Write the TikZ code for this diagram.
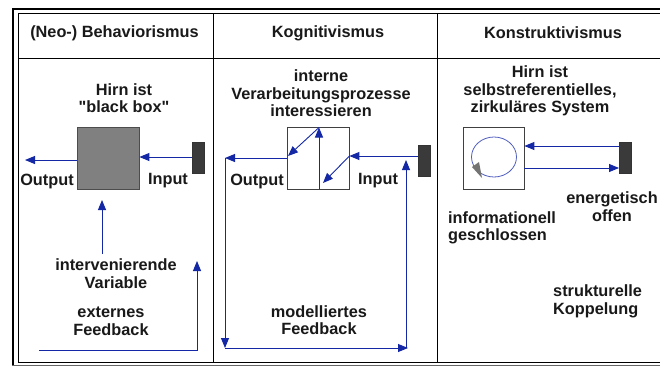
\documentclass[tikz,border=0pt]{standalone}
\usepackage{fontspec}
\setmainfont{Liberation Sans}
\usetikzlibrary{arrows.meta}
\definecolor{arrblue}{RGB}{20,40,165}
\definecolor{loopblue}{RGB}{80,95,190}
\definecolor{boxgray}{RGB}{128,128,128}
\definecolor{bardark}{RGB}{58,58,58}
\definecolor{txt}{RGB}{25,25,25}
\newcommand\straightq{\XeTeXglyph\XeTeXcharglyph"22\relax}
\begin{document}
\begin{tikzpicture}[x=1pt,y=-1pt,
  lbl/.style={font=\fontsize{16.3}{17.5}\selectfont\bfseries, align=center, inner sep=0pt, text=txt},
  lbll/.style={lbl, align=left, anchor=west},
  conn/.style={draw=arrblue, line width=0.9pt, -{Triangle[length=10pt,width=8pt]}},
  plainline/.style={draw=arrblue, line width=0.9pt},
  barbox/.style={fill=bardark, draw=black!80, line width=0.4pt, minimum width=12pt, minimum height=31pt, inner sep=0pt},
  frameline/.style={draw=black, line width=0.9pt},
  whitebox/.style={draw=black!75, line width=0.8pt, fill=white, minimum width=62pt, minimum height=62pt, inner sep=0pt}
]
\useasboundingbox (0,0) rectangle (660,367);
\fill[white] (0,0) rectangle (660,367);
% frame
\draw[line width=2.2pt] (660,9) -- (13,9) -- (13,366);
\draw[line width=1pt, black!60] (12,365.5) -- (660,365.5);
\draw[frameline] (660,13) -- (18,13) -- (18,362) -- (660,362);
\draw[frameline] (18,58) -- (660,58);
\draw[frameline] (213,13) -- (213,362);
\draw[frameline] (437,13) -- (437,362);

% headers
\node[lbl] (h1) at (114.5,33) {(Neo-) Behaviorismus};
\node[lbl] (h2) at (328,33) {Kognitivismus};
\node[lbl] (h3) at (553,33) {Konstruktivismus};

% ---------- column 1
\node[lbl] (t1) at (124,98) {Hirn ist\\\straightq black box\straightq};
\node[whitebox, fill=boxgray, draw=black!70] (bb) at (108,158) {};
\node[barbox] (bar1) at (198,157.5) {};
\coordinate (in1) at (192,157);
\coordinate (out1) at (25,160);
\draw[conn] (in1) -- (bb.east |- in1);
\draw[conn] (bb.west |- out1) -- (out1);
\node[lbl] (o1) at (47,181) {Output};
\node[lbl] (i1) at (168,181) {Input};
\coordinate (iv0) at (102,254);
\coordinate (iv1) at (102,200);
\draw[conn] (iv0) -- (iv1);
\node[lbl] (t2) at (116,273.5) {intervenierende\\Variable};
\node[lbl] (t3) at (111,321.5) {externes\\Feedback};
\coordinate (fb0) at (39,350);
\coordinate (fb1) at (197,350);
\coordinate (fb2) at (197,261);
\draw[conn] (fb0) -- (fb1) -- (fb2);

% ---------- column 2
\node[lbl] (t4) at (321,93.5) {interne\\Verarbeitungsprozesse\\interessieren};
\node[whitebox] (kb) at (318,158) {};
\node[barbox] (bar2) at (424,160.5) {};
\coordinate (in2) at (418,156);
\draw[conn] (in2) -- (kb.east |- in2);
\coordinate (k1) at (323,183);
\coordinate (kbot) at (319,189);
\coordinate (ktop) at (319,127.5);
\coordinate (k2) at (288,156);
\draw[conn] (kb.east |- in2) -- (k1);
\draw[conn] (kbot) -- (ktop);
\draw[conn] (ktop) -- (k2);
\coordinate (out2) at (225,158);
\draw[conn] (kb.west |- out2) -- (out2);
\coordinate (lb) at (225,348);
\coordinate (rb) at (408,348);
\coordinate (rb0) at (406,348);
\coordinate (rt) at (406,160);
\draw[conn] (out2) -- (lb);
\draw[conn] (lb) -- (rb);
\draw[conn] (rb0) -- (rt);
\node[lbl] (o2) at (257,181) {Output};
\node[lbl] (i2) at (378,181) {Input};
\node[lbl] (t5) at (319,320) {modelliertes\\Feedback};

% ---------- column 3
\node[lbl] (t6) at (540,91) {Hirn ist\\selbstreferentielles,\\zirkuläres System};
\node[whitebox, minimum width=61pt] (sb) at (493.5,158) {};
\draw[loopblue, line width=0.8pt] (494,157) ellipse [x radius=22.5, y radius=20];
\fill[black!55] (472,167) -- (479,162) -- (482,178) -- cycle;
\node[barbox] (bar3) at (625,157.5) {};
\coordinate (a3) at (619,146);
\coordinate (b3) at (619,168);
\draw[conn] (a3) -- (sb.east |- a3);
\draw[conn] (sb.east |- b3) -- (b3);
\node[lbl] (t7) at (612,206.5) {energetisch\\offen};
\node[lbll] (t8) at (448,228) {informationell\\geschlossen};
\node[lbll] (t9) at (553,301.5) {strukturelle\\Koppelung};
\end{tikzpicture}
\end{document}
